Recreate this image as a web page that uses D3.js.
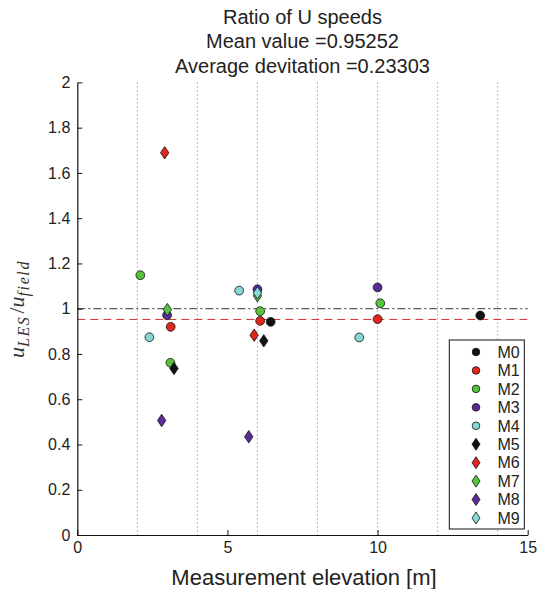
<!DOCTYPE html>
<html>
<head>
<meta charset="utf-8">
<script src="https://cdn.jsdelivr.net/npm/d3@7"></script>
<style>
  html, body { margin: 0; padding: 0; background: #fff; }
  svg { display: block; }
</style>
</head>
<body>
<script>
// ---------------- data ----------------
const seriesNames = ["M0", "M1", "M2", "M3", "M4", "M5", "M6", "M7", "M8", "M9"];
const seriesColors = ["#111111", "#e3261c", "#55c43c", "#5a2d96", "#86d8d6",
                      "#111111", "#e3261c", "#55c43c", "#5a2d96", "#86d8d6"];
const seriesShapes = ["circle", "circle", "circle", "circle", "circle",
                      "diamond", "diamond", "diamond", "diamond", "diamond"];

// elevation [m]
const M0x = [6.44, 13.42];
const M1x = [3.11, 6.09, 10.0];
const M2x = [2.10, 3.10, 6.09, 10.09];
const M3x = [2.99, 6.0, 10.0];
const M4x = [2.40, 5.39, 9.39];
const M5x = [3.22, 6.21];
const M6x = [2.91, 5.89];
const M7x = [3.00, 6.0];
const M8x = [2.81, 5.71];
const M9x = [6.0];
// ratio u_LES / u_field
const M0y = [0.942, 0.970];
const M1y = [0.920, 0.946, 0.954];
const M2y = [1.148, 0.761, 0.989, 1.024];
const M3y = [0.971, 1.086, 1.094];
const M4y = [0.874, 1.080, 0.873];
const M5y = [0.736, 0.858];
const M6y = [1.689, 0.883];
const M7y = [0.996, 1.057];
const M8y = [0.506, 0.434];
const M9y = [1.070];

const xsAll = [M0x, M1x, M2x, M3x, M4x, M5x, M6x, M7x, M8x, M9x];
const ysAll = [M0y, M1y, M2y, M3y, M4y, M5y, M6y, M7y, M8y, M9y];

const xTicks = [0, 5, 10, 15];
const xGrid = [2, 4, 6, 8, 10, 12, 14];
const yTicks = [0, 0.2, 0.4, 0.6, 0.8, 1, 1.2, 1.4, 1.6, 1.8, 2];
const yTickLabels = ["0", "0.2", "0.4", "0.6", "0.8", "1", "1.2", "1.4", "1.6", "1.8", "2"];
const titleLines = ["Ratio of U speeds", "Mean value =0.95252", "Average devitation =0.23303"];
const meanValue = 0.95252;
const referenceValue = 1;
const xLabel = "Measurement elevation [m]";

// ---------------- layout ----------------
const SANS = '"Liberation Sans", Arial, sans-serif';
const SERIF = '"Liberation Serif", "DejaVu Serif", serif';
const W = 542, H = 589;
const plot = { left: 77.3, right: 527.7, top: 82.4, bottom: 535 };

const svg = d3.select("body").append("svg").attr("width", W).attr("height", H)
  .style("font-family", SANS);

const x = d3.scaleLinear().domain([0, 15]).range([plot.left, plot.right]);
const y = d3.scaleLinear().domain([0, 2]).range([plot.bottom, plot.top]);

// grid
svg.append("g").selectAll("line").data(xGrid).join("line")
  .attr("x1", d => x(d)).attr("x2", d => x(d))
  .attr("y1", plot.top).attr("y2", plot.bottom)
  .attr("stroke", "#777").attr("stroke-width", 1)
  .attr("stroke-dasharray", "1,3");

// reference lines
svg.append("line")
  .attr("x1", x(0)).attr("x2", x(15))
  .attr("y1", y(referenceValue)).attr("y2", y(referenceValue))
  .attr("stroke", "#333").attr("stroke-width", 1)
  .attr("stroke-dasharray", "8,3,2,3");
svg.append("line")
  .attr("x1", x(0)).attr("x2", x(15))
  .attr("y1", y(meanValue)).attr("y2", y(meanValue))
  .attr("stroke", "#d8302a").attr("stroke-width", 1)
  .attr("stroke-dasharray", "8,5");

// axes
const yAxis = d3.axisLeft(y).tickValues(yTicks)
  .tickFormat((d, i) => yTickLabels[i])
  .tickSizeInner(-5).tickSizeOuter(0).tickPadding(7);
const gy = svg.append("g").attr("transform", `translate(${plot.left},0)`).call(yAxis);
const xAxis = d3.axisBottom(x).tickValues(xTicks)
  .tickFormat(d3.format("d"))
  .tickSizeInner(-5).tickSizeOuter(0).tickPadding(7);
const gx = svg.append("g").attr("transform", `translate(0,${plot.bottom})`).call(xAxis);
[gx, gy].forEach(g => {
  g.attr("font-family", SANS);
  g.select(".domain").attr("stroke", "#111").attr("stroke-width", 1.2);
  g.selectAll(".tick line").attr("stroke", "#111");
  g.selectAll(".tick text").attr("font-size", 16).attr("fill", "#222");
});

// markers
const diamond = (cx, cy, hw, hh) => `M${cx},${cy - hh}L${cx + hw},${cy}L${cx},${cy + hh}L${cx - hw},${cy}Z`;
const marks = svg.append("g");
seriesNames.forEach((name, s) => {
  const pts = xsAll[s].map((xv, i) => ({ x: xv, y: ysAll[s][i] }));
  const g = marks.append("g").attr("class", "series-" + name);
  if (seriesShapes[s] === "circle") {
    g.selectAll("circle").data(pts).join("circle")
      .attr("cx", d => x(d.x)).attr("cy", d => y(d.y)).attr("r", 4.4)
      .attr("fill", seriesColors[s]).attr("stroke", "#111").attr("stroke-width", 0.8);
  } else {
    g.selectAll("path").data(pts).join("path")
      .attr("d", d => diamond(x(d.x), y(d.y), 4.2, 6.2))
      .attr("fill", seriesColors[s]).attr("stroke", "#111").attr("stroke-width", 0.8);
  }
});

// legend
const leg = { left: 449.3, top: 340, right: 524.3, bottom: 529 };
svg.append("rect")
  .attr("x", leg.left).attr("y", leg.top)
  .attr("width", leg.right - leg.left).attr("height", leg.bottom - leg.top)
  .attr("fill", "#fff").attr("stroke", "#111").attr("stroke-width", 1);
const legY = d3.scalePoint().domain(seriesNames).range([352, 518]);
const li = svg.append("g").selectAll("g").data(seriesNames).join("g")
  .attr("transform", d => `translate(0,${legY(d)})`);
li.each(function (name, s) {
  const g = d3.select(this);
  if (seriesShapes[s] === "circle") {
    g.append("circle").attr("cx", 476).attr("cy", 0).attr("r", 3.8)
      .attr("fill", seriesColors[s]).attr("stroke", "#111").attr("stroke-width", 0.8);
  } else {
    g.append("path").attr("d", diamond(476, 0, 4, 6))
      .attr("fill", seriesColors[s]).attr("stroke", "#111").attr("stroke-width", 0.8);
  }
  g.append("text").attr("x", 497.5).attr("y", 0).attr("dy", "0.36em")
    .attr("font-size", 16).attr("fill", "#222").text(name);
});

// title
const cxTitle = (plot.left + plot.right) / 2;
svg.append("g").selectAll("text").data(titleLines).join("text")
  .attr("x", cxTitle).attr("y", (d, i) => 23.5 + i * 24.8)
  .attr("text-anchor", "middle").attr("font-size", 20).attr("fill", "#222").text(d => d);

// x label
svg.append("text").attr("x", 304).attr("y", 585)
  .attr("text-anchor", "middle").attr("font-size", 22).attr("fill", "#222").text(xLabel);

// y label (math italic)
const yl = svg.append("text")
  .attr("transform", "translate(24,309) rotate(-90)")
  .attr("text-anchor", "middle")
  .style("font-family", SERIF)
  .attr("font-style", "italic").attr("font-size", 22).attr("fill", "#333");
yl.append("tspan").text("u");
yl.append("tspan").attr("font-size", 16).attr("dy", 5).attr("letter-spacing", 1.6).text("LES");
yl.append("tspan").attr("dy", -5).attr("font-style", "normal").attr("dx", 2).text("/");
yl.append("tspan").text("u");
yl.append("tspan").attr("font-size", 16).attr("dy", 5).attr("letter-spacing", 1.6).text("field");
</script>
</body>
</html>
